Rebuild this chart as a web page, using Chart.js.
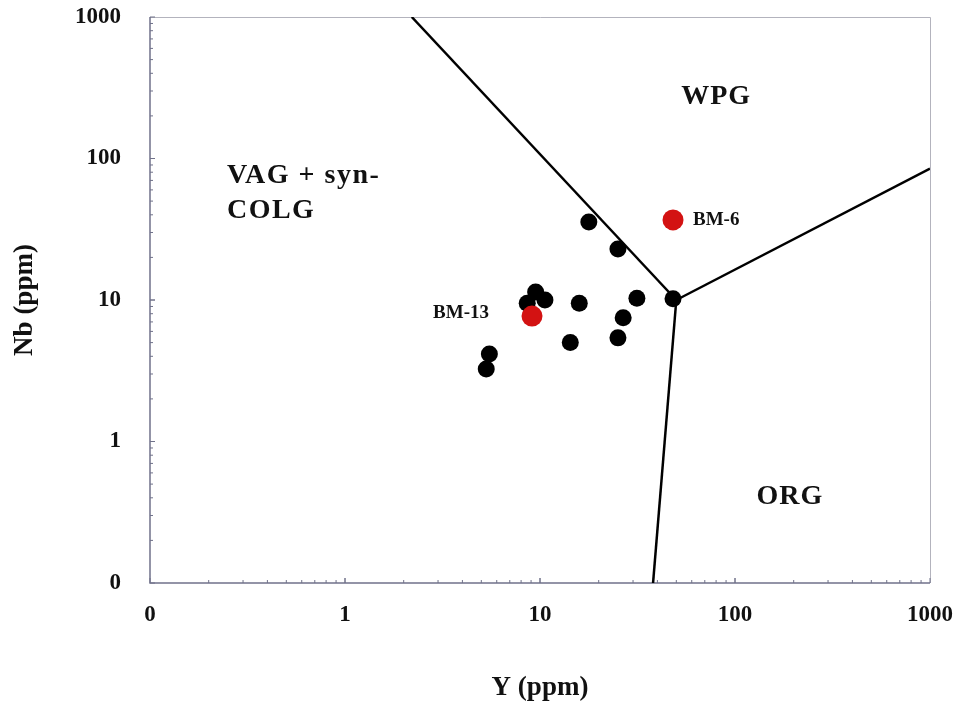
<!DOCTYPE html>
<html>
<head>
<meta charset="utf-8">
<title>Nb vs Y discrimination diagram</title>
<script src="https://cdn.jsdelivr.net/npm/chart.js@4"></script>
<style>
  html, body { margin: 0; padding: 0; background: #fff; }
  canvas { display: block; }
</style>
</head>
<body>
<canvas id="nbY" width="959" height="706"></canvas>
<script>
// tick positions (decades) and the labels printed at them
const tickValues = [0.1, 1, 10, 100, 1000];
const tickLabels = ["0", "1", "10", "100", "1000"];

// samples: Y (ppm), Nb (ppm)
const sampleY  = [17.8, 25.1, 9.5, 8.6, 10.6, 15.9, 31.4, 48.1, 26.7, 25.1, 14.3, 5.5, 5.3];
const sampleNb = [35.6, 22.9, 11.4, 9.5, 10.0, 9.5, 10.3, 10.2, 7.5, 5.4, 5.0, 4.15, 3.25];

// the two named samples
const namedNames = ["BM-13", "BM-6"];
const namedY  = [9.1, 48.1];
const namedNb = [7.7, 36.8];

// field boundaries
const lineWpgY = [2.2, 50];   const lineWpgNb = [1000, 10];
const lineOrgY = [50, 1000];  const lineOrgNb = [10, 85];
const lineVagY = [50, 38];    const lineVagNb = [10, 0.1];

const toPoints = (xs, ys) => xs.map((x, i) => ({ x: x, y: ys[i] }));

const serif = "'Liberation Serif', 'Times New Roman', serif";

// region names, anchored in data space
const fieldLabels = [
  { text: "WPG", x: 80, y: 272, align: "center", size: 28, spacing: 1 },
  { text: "VAG + syn-", x: 0.248, y: 75, align: "left", size: 28, spacing: 1.5 },
  { text: "COLG", x: 0.248, y: 42.6, align: "left", size: 28, spacing: 1.5 },
  { text: "ORG", x: 191, y: 0.405, align: "center", size: 28, spacing: 1 }
];

const framePlugin = {
  id: "frame",
  beforeDatasetsDraw(chart) {
    const { ctx, chartArea: a, scales } = chart;
    ctx.save();
    ctx.strokeStyle = "#b3b3bd";
    ctx.lineWidth = 1;
    ctx.beginPath();
    ctx.moveTo(a.left, a.top + 0.5);
    ctx.lineTo(a.right + 0.5, a.top + 0.5);
    ctx.lineTo(a.right + 0.5, a.bottom);
    ctx.stroke();

    ctx.strokeStyle = "#70728a";
    ctx.lineWidth = 1.5;
    ctx.beginPath();
    ctx.moveTo(a.left, a.top);
    ctx.lineTo(a.left, a.bottom);
    ctx.lineTo(a.right, a.bottom);
    ctx.stroke();

    // little inward ticks on the left and bottom axes
    ctx.lineWidth = 1;
    ctx.beginPath();
    for (let d = 0; d < tickValues.length - 1; d++) {
      for (let m = 1; m <= 10; m++) {
        const v = tickValues[d] * m;
        const len = m === 1 || m === 10 ? 5 : 3;
        const px = scales.x.getPixelForValue(v);
        const py = scales.y.getPixelForValue(v);
        ctx.moveTo(px, a.bottom);
        ctx.lineTo(px, a.bottom - len);
        ctx.moveTo(a.left, py);
        ctx.lineTo(a.left + len, py);
      }
    }
    ctx.stroke();
    ctx.restore();
  },
  afterDatasetsDraw(chart) {
    const { ctx, scales } = chart;
    ctx.save();
    ctx.fillStyle = "#111";
    ctx.textBaseline = "middle";
    fieldLabels.forEach(l => {
      ctx.font = "bold " + l.size + "px " + serif;
      ctx.letterSpacing = l.spacing + "px";
      ctx.textAlign = l.align;
      ctx.fillText(l.text, scales.x.getPixelForValue(l.x), scales.y.getPixelForValue(l.y));
    });

    // sample names next to the red points
    ctx.letterSpacing = "0px";
    ctx.font = "bold 19px " + serif;
    namedNames.forEach((name, i) => {
      const px = scales.x.getPixelForValue(namedY[i]);
      const py = scales.y.getPixelForValue(namedNb[i]);
      if (i === 0) {
        ctx.textAlign = "right";
        ctx.fillText(name, px - 43, py - 3);
      } else {
        ctx.textAlign = "left";
        ctx.fillText(name, px + 20, py);
      }
    });
    ctx.restore();
  }
};

// tick mark length (not drawn) is used as the gap between axis and labels,
// ticks.padding would also grow the outer padding of the chart
function logAxis(title, titlePadding, gap, fit) {
  return {
    type: "logarithmic",
    min: 0.1,
    max: 1000,
    afterBuildTicks: s => { s.ticks = tickValues.map(v => ({ value: v })); },
    afterFit: fit,
    grid: { display: false, drawTicks: true, tickLength: gap },
    border: { display: false },
    ticks: {
      autoSkip: false,
      maxRotation: 0,
      padding: 0,
      color: "#111",
      font: { family: serif, size: 23, weight: "bold" },
      callback: (value, index) => tickLabels[index]
    },
    title: {
      display: true,
      text: title,
      color: "#111",
      padding: titlePadding,
      font: { family: serif, size: 27, weight: "bold" }
    }
  };
}

const xAxis = logAxis("Y (ppm)", { top: 0, bottom: 2 }, 18, s => { s.height = 123; });
const yAxis = logAxis("Nb (ppm)", { top: 9, bottom: 0 }, 29, s => { s.width = 150; });

new Chart(document.getElementById("nbY"), {
  type: "scatter",
  data: {
    datasets: [
      {
        label: "Named samples",
        data: toPoints(namedY, namedNb),
        backgroundColor: "#d31212",
        borderWidth: 0,
        pointRadius: 10.5
      },
      {
        label: "Samples",
        data: toPoints(sampleY, sampleNb),
        backgroundColor: "#000",
        borderWidth: 0,
        pointRadius: 8.5
      },
      {
        label: "WPG / VAG",
        data: toPoints(lineWpgY, lineWpgNb),
        showLine: true, borderColor: "#000", borderWidth: 2.5, pointRadius: 0
      },
      {
        label: "WPG / ORG",
        data: toPoints(lineOrgY, lineOrgNb),
        showLine: true, borderColor: "#000", borderWidth: 2.5, pointRadius: 0
      },
      {
        label: "VAG / ORG",
        data: toPoints(lineVagY, lineVagNb),
        showLine: true, borderColor: "#000", borderWidth: 2.5, pointRadius: 0
      }
    ]
  },
  options: {
    responsive: false,
    animation: false,
    layout: { padding: { top: 17, right: 29, left: 0, bottom: 0 } },
    plugins: { legend: { display: false }, tooltip: { enabled: false } },
    scales: { x: xAxis, y: yAxis }
  },
  plugins: [framePlugin]
});
</script>
</body>
</html>
